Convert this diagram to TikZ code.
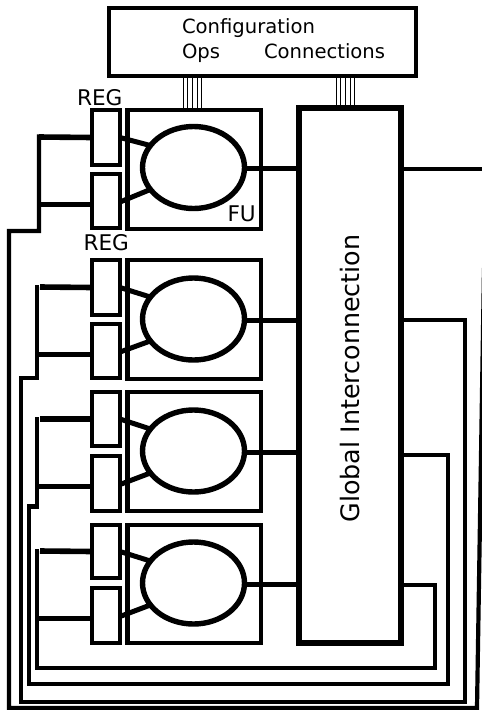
\documentclass[tikz,border=0pt]{standalone}
\usepackage{fontspec}
\setmainfont{DejaVu Sans}
\usetikzlibrary{calc,shapes.geometric}
\tikzset{
  block/.style={draw=black,line width=4.1pt,inner sep=0pt,outer sep=0pt,fill=white},
  func/.style={draw=black,line width=5.4pt,ellipse,inner sep=0pt,outer sep=0pt,minimum width=102pt,minimum height=82pt,fill=white},
  label/.style={inner sep=0pt,outer sep=0pt,font=\fontsize{19.6}{24}\selectfont,anchor=base west,text=black},
  reglabel/.style={label,font=\fontsize{21.6}{26}\selectfont},
  wire/.style={draw=black,line width=4.2pt,line join=miter},
  tap/.style={draw=black,line width=5pt},
  toptap/.style={draw=black,line width=5.6pt},
  bus/.style={draw=black,line width=0.9pt},
}
\begin{document}
\begin{tikzpicture}[x=1pt,y=-1pt]
\useasboundingbox (0,0) rectangle (482,710);
\clip (0,0) rectangle (482,710);
\fill[white] (0,0) rectangle (482,710);
% configuration box and global interconnect
\node[block,line width=4.6pt,minimum width=307pt,minimum height=68pt] (cfg) at (262.5,42) {};
\node[block,line width=6pt,minimum width=102.5pt,minimum height=535pt] (glob) at (350,375.5) {};
\node[label,anchor=center,rotate=90,font=\fontsize{25.4}{30}\selectfont] (globtxt) at (350,378.5) {Global Interconnection};
\node[label] (cfgtxt) at (182,33) {Configuration};
\node[label] (opstxt) at (182,58) {Ops};
\node[label] (contxt) at (264,58) {Connections};
% rows: name/top/bottom/split positions
\foreach \r/\ftop/\fbot/\atop/\abot/\btop/\bbot/\ey in {1/110/229/110/165/174/228/167.5,
  2/260/379/260/315/324/378/319,
  3/392/511/392/446/456/511/451,
  4/525/643/525/578/588/643/583}{
  \pgfmathsetlengthmacro{\fh}{\fbot-\ftop}
  \pgfmathsetlengthmacro{\ah}{\abot-\atop}
  \pgfmathsetlengthmacro{\bh}{\bbot-\btop}
  \node[block,minimum width=133.5pt,minimum height=\fh] (fu\r) at (194.25,{(\ftop+\fbot)/2}) {};
  \node[block,minimum width=28pt,minimum height=\ah] (rega\r) at (106,{(\atop+\abot)/2}) {};
  \node[block,minimum width=28pt,minimum height=\bh] (regb\r) at (106,{(\btop+\bbot)/2}) {};
  \node[func] (alu\r) at (193.5,\ey) {};
  \draw[tap] (rega\r.east) -- (alu\r.153);
  \draw[tap] ($(regb\r.east)+(0,1)$) -- (alu\r.207);
  \coordinate (out\r) at ($(alu\r.east)+(0,1)$);
  \draw[tap] (out\r) -- (out\r -| glob.west);
}
% buses
\foreach \x in {183,187.7,192.4,197.1,201.8}
  \draw[bus] (\x,78) -- (\x,108);
\foreach \x in {336,340.7,345.4,350.1,354.8}
  \draw[bus] (\x,78) -- (\x,106);
\node[reglabel] (regt1) at (77,105) {REG};
\node[reglabel] (regt2) at (83.5,250) {REG};
\node[reglabel] (futxt) at (227.5,221) {FU};
% row 1 wiring: feedback from global right side, off the edge and back
\coordinate (ja1) at (39,137);
\coordinate (jb1) at (39,204);
\draw[toptap] (rega1.west) -- (ja1);
\draw[tap] (regb1.west |- jb1) -- (jb1);
\draw[wire] (39,134.4) -- (39,231) -- (9,231) -- (9,708) -- (477,708) -- (484,268);
\draw[wire] (glob.east |- 0,169) -- (482,169);
% row 2 wiring
\coordinate (ja2) at (40,287);
\coordinate (jb2) at (37,354);
\draw[toptap] (rega2.west) -- (ja2);
\draw[tap] (regb2.west |- jb2) -- (jb2);
\draw[wire] (37,285) -- (37,378) -- (21,378) -- (21,702) -- (465,702) -- (465,320) -- (glob.east |- 0,320);
% row 3 wiring
\coordinate (ja3) at (40,419);
\coordinate (jb3) at (37,486);
\draw[toptap] (rega3.west) -- (ja3);
\draw[tap] (regb3.west |- jb3) -- (jb3);
\draw[wire] (37,417) -- (37,506.5) -- (29,506.5) -- (29,684) -- (448,684) -- (448,455) -- (glob.east |- 0,455);
% row 4 wiring
\coordinate (ja4) at (40,551);
\coordinate (jb4) at (37,618);
\draw[toptap] (rega4.west) -- (ja4);
\draw[tap] (regb4.west |- jb4) -- (jb4);
\draw[wire] (37,549) -- (37,668) -- (435,668) -- (435,585) -- (glob.east |- 0,585);
\end{tikzpicture}
\end{document}
